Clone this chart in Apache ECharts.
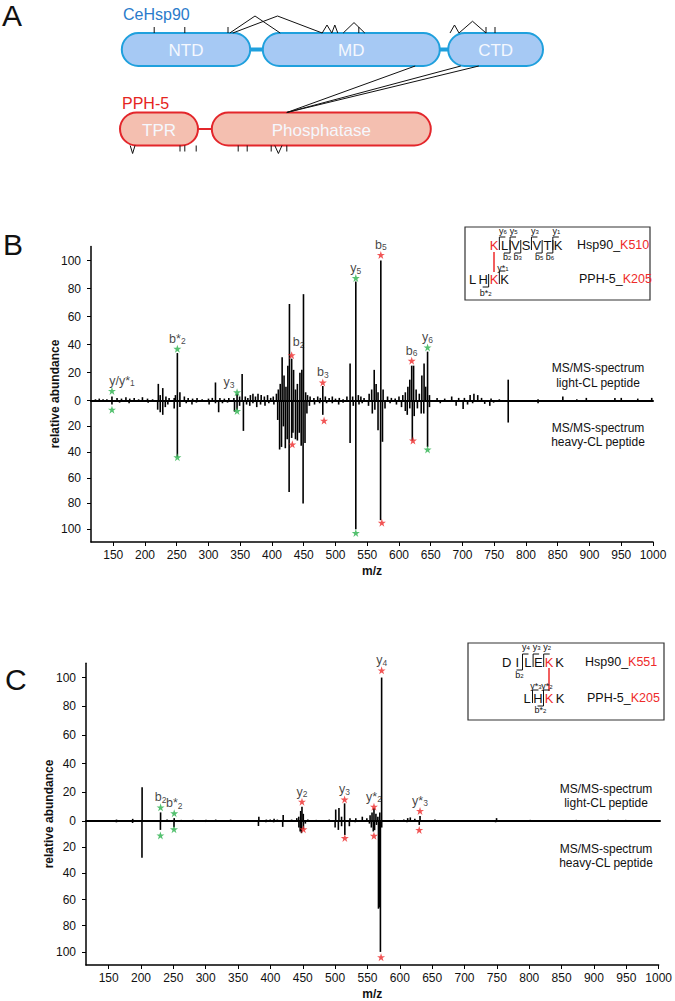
<!DOCTYPE html>
<html>
<head>
<meta charset="utf-8">
<title>CeHsp90 / PPH-5 cross-links</title>
<script src="https://cdn.jsdelivr.net/npm/echarts@6/dist/echarts.min.js"></script>
<style>
html,body{margin:0;padding:0;background:#fff;}
#main{width:675px;height:1001px;}
</style>
</head>
<body>
<div id="main"></div>
<script>
// ---------- panel A : domain diagram (diagram positions along the chain) ----------
var hspDomains = [['NTD', 3, 217], ['MD', 238, 533], ['CTD', 547, 705]];
var pphDomains = [['TPR', 0, 130], ['Phosphatase', 153, 518]];
var interLinks = [[492, 278], [568, 278], [598, 278]];           // [Hsp90 pos, PPH-5 pos]
var hspLoops = [[183, 267], [188, 337], [337, 353], [353, 363], [372, 408], [550, 565], [565, 610]];
var hspMono = [57, 108, 180, 398, 610, 625];
var pphLoops = [[17, 25], [258, 270]];
var pphMono = [100, 108, 127, 197, 212, 252, 278];

// ---------- panel B : K510 x K205 ----------
var bLight = [[122,1],[128,1.5],[134,1],[140,1],[148,3],[156,2],[163,1.5],[170,2.5],[176,1.5],[183,2],[190,1],[196,2.5],[204,1.5],[212,1],
  [221,12],[224,4],[228,9],[233,3],[238,2],[246,2],[248,4],[251,34],[255,6],[262,3],[268,2],[275,1.5],[282,2],[290,1],
  [300,1.5],[306,2],[311,13],[318,2],[325,1.5],[332,2],[340,2],[345,5],[349,3],[353,19],
  [358,3],[362,2],[366,4],[370,5],[374,3],[378,5],[383,4],[388,3],[393,4],[398,2],[402,3],[407,5],
  [410,8],[413,12],[416,31],[419,18],[422,10],[425,25],[427.5,69],[431,30],[434,22],[437,8],[440,12],[444,20],[447,22],[449.6,76],[453,6],[456,4],[460,3],
  [466,2],[472,3],[476,2],[480,10.5],[484,3],[490,2],[495,3],[500,1.5],[506,2],[512,1],[518,3],
  [523,26.6],[527,3],[532,85],[536,4],[540,3],[545,2],[553,5],[557,8],[561,22],[564,12],[567,6],[571.4,100],[575,8],
  [582,3],[588,2],[594,1.5],[600,3],[606,4],[610,6],[614,10],[617,15],[620,25],[623,25],[627,8],[632,5],[636,18],[639.5,26.6],[642,10],[645,35],[648,4],
  [660,2],[672,1.5],[683,3],[694,2],[703,2],[712,4],[718,5],[724,4],[730,2],[745,1.5],[758,1],[772,15],
  [819,1],[858,3],[880,1],[895,2],[940,2],[950,2],[976,1.5],[998,2]];
var bHeavy = [[130,1],[148,3],[160,1.5],[175,2],[190,1],[205,1.5],
  [220,7],[224,9],[228,11],[232,5],[236,3],[246,6],[251,43.5],[255,5],[265,2],[274,3],[281,1.5],
  [301,3],[311,2],[316,9],[322,2],[330,1.5],[341,8.5],[345,7],[349,4],[355,23.5],
  [360,3],[365,4],[370,2],[376,5],[382,3],[389,4],[395,2],[403,3],
  [409,15],[412,38],[415,36],[418,20],[421,37],[424,30],[427,71],[431,29],[433,25],[437,30],[440,31],[443,25],[446,35],[449,80],[452,33],[455,10],[459,4],
  [467,3],[475,2],[480,11],[486,2],[495,2],[505,3],[512,1.5],
  [523,33],[528,4],[532,100],[537,3],[542,2],[552,4],[558,10],[562,7],[567,23],[571,93],[574,32],[578,6],
  [586,2],[596,3],[604,5],[610,8],[613,11],[617,6],[621,31],[624,12],[629,6],[635,10],[639,10],[645,36],[648,5],
  [665,2],[690,4],[701,6.5],[708,3],[716,2],[735,2.5],[743,4],[749,1.5],[772,17],[819,2],[870,1]];
var bGreenUp = [[148,7],[251,37],[345,6],[532,87.5],[645,38]];
var bGreenDown = [[148,7],[251,44],[345,8],[532,103],[645,38]];
var bGreenIons = [['y/y*','1'],['b*','2'],['y','3'],['y','5'],['y','6']];
var bRedUp = [[431,32.5],[480,13],[571.4,104],[620,28.5]];
var bRedDown = [[432,34],[482,15.5],[573,95],[622,31]];
var bRedIons = [['b','2'],['b','3'],['b','5'],['b','6']];

// ---------- panel C : K551 x K205 ----------
var cLight = [[162,1],[187,1.5],[201.5,23.5],[230,6],[240,1],[251,2],[262,0.8],[280,0.8],[300,0.8],[315,1],[338,1],
  [381.5,3],[393,1],[399,1],[405,1.5],[410,1],[419,4.2],[432,1],[440,2],[443,3],[446,7],[448,10],[450,5],[457,1],[470,0.8],[490,1],
  [500,8],[505,9],[509,3],[513.7,12.3],[522,2],[531,2],[541,3],[548,2],[553,4],[556,6],[559,9],[562,5],[565,3],[568,6],[570.8,100],
  [590,0.8],[605,1],[611,2],[615,2.5],[622,1.5],[630,3.5],[653,1],[748,2],[800,0.8],[871,0.8],[920,0.8],[947,0.8]];
var cHeavy = [[162,1],[187,1.5],[201.5,28],[230,6.8],[251,4.8],[300,0.8],[381.5,3.8],[393,1],[405,1],[419,4.5],
  [444,5],[446,8],[448,9.3],[451,6],[454,2],[500,5],[505,6.8],[510,4],[515,10.6],[522,4],[531,1],
  [553,2],[556,5],[559,8],[561,7],[564,3],[567,67],[568.5,66],[570,100],[572,5],[611,1],[630,3],[653,0.8],[748,1]];
var cGreenUp = [[230,9.5],[251,5.4]];
var cGreenDown = [[230,11],[251,6.3]];
var cGreenIons = [['b','2'],['b*','2']];
var cRedUp = [[448,13.5],[513.7,15],[559,10],[570.8,105],[630,7]];
var cRedDown = [[451,6.3],[515,13],[560,11.3],[571,104],[630,6.8]];
var cRedIons = [['y','2'],['y','3'],['y*','2'],['y','4'],['y*','3']];

var mzTicks = [150,200,250,300,350,400,450,500,550,600,650,700,750,800,850,900,950,1000];
var upTicks = [0,20,40,60,80,100];
var downTicks = [20,40,60,80,100];

var FONT = '"Liberation Sans", Arial, sans-serif';
var GREEN = '#2bb24c', RED = '#ee2a2a', INK = '#111';
var STAR = 'path://M12,0L14.9,8.6L24,8.6L16.6,14L19.4,22.8L12,17.4L4.6,22.8L7.4,14L0,8.6L9.1,8.6Z';
var HALF = 16.5;

var chart = echarts.init(document.getElementById('main'), null, {renderer: 'svg'});

function txt(x, y, s, extra) {
  return {type: 'text', x: x, y: y, silent: true, z: 10,
    style: Object.assign({text: s, fill: INK, font: '12px ' + FONT, textAlign: 'center', textVerticalAlign: 'middle'}, extra || {})};
}
function pline(points, color, w) {
  return {type: 'polyline', silent: true, z: 10, shape: {points: points}, style: {stroke: color || INK, lineWidth: w || 1, fill: null}};
}
function ionTxt(x, y, name, num) {
  return txt(x, y, '{m|' + name + '}{s|' + num + '}', {rich: {
    m: {fontSize: 9, fontFamily: FONT, fill: INK, lineHeight: 8},
    s: {fontSize: 6, fontFamily: FONT, fill: INK, lineHeight: 3, verticalAlign: 'bottom'}}});
}

// one peptide line of an inset, with its y / b fragment brackets
function peptideRow(seq, xl, xlX, y, step, yIons, bIons, star, yOff, bOff) {
  var els = [], n = seq.length, xs = [];
  for (var i = 0; i < n; i++) xs.push(xlX + (i - xl) * step);
  for (i = 0; i < n; i++) els.push(txt(xs[i], y, seq[i], {fill: i === xl ? RED : INK, font: '13px ' + FONT}));
  yIons.forEach(function (k) {
    var bx = (xs[n - k - 1] + xs[n - k]) / 2;
    els.push(pline([[bx, y + 5], [bx, y - 8], [bx + 6, y - 8]]));
    els.push(ionTxt(bx + 3.5, y - yOff, star ? 'y*' : 'y', k));
  });
  bIons.forEach(function (k) {
    var bx = (xs[k - 1] + xs[k]) / 2;
    els.push(pline([[bx, y - 5], [bx, y + 8], [bx - 6, y + 8]]));
    els.push(ionTxt(bx - 3, y + bOff, star ? 'b*' : 'b', k));
  });
  return els;
}
function siteLabel(x, y, prot, site) {
  return txt(x, y, '{k|' + prot + '}{r|' + site + '}', {textAlign: 'left', rich: {
    k: {fontSize: 12.5, fontFamily: FONT, fill: INK}, r: {fontSize: 12.5, fontFamily: FONT, fill: RED}}});
}

var graphics = [
  txt(2, 15, 'A', {font: '30px ' + FONT, textAlign: 'left'}),
  txt(3, 244, 'B', {font: '30px ' + FONT, textAlign: 'left'}),
  txt(5, 679, 'C', {font: '30px ' + FONT, textAlign: 'left'}),
  txt(123, 14, 'CeHsp90', {font: '16px ' + FONT, fill: '#2a7bcb', textAlign: 'left'}),
  txt(122, 103, 'PPH-5', {font: '16px ' + FONT, fill: '#e52421', textAlign: 'left'}),
  txt(55, 394, 'relative abundance', {font: 'bold 12px ' + FONT}),
  txt(49, 814, 'relative abundance', {font: 'bold 12px ' + FONT}),
  txt(598, 368, 'MS/MS-spectrum', {font: '12px ' + FONT}),
  txt(598, 383, 'light-CL peptide', {font: '12px ' + FONT}),
  txt(598, 428, 'MS/MS-spectrum', {font: '12px ' + FONT}),
  txt(598, 442, 'heavy-CL peptide', {font: '12px ' + FONT}),
  txt(606, 789, 'MS/MS-spectrum', {font: '12px ' + FONT}),
  txt(606, 803, 'light-CL peptide', {font: '12px ' + FONT}),
  txt(606, 849, 'MS/MS-spectrum', {font: '12px ' + FONT}),
  txt(606, 863, 'heavy-CL peptide', {font: '12px ' + FONT}),
  // inset B
  {type: 'rect', silent: true, z: 9, shape: {x: 465, y: 227, width: 185, height: 73}, style: {fill: '#fff', stroke: '#333', lineWidth: 1.2}},
  pline([[494, 252], [494, 272]], RED, 1.5),
  siteLabel(577, 245, 'Hsp90_', 'K510'),
  siteLabel(579, 279, 'PPH-5_', 'K205'),
  // inset C
  {type: 'rect', silent: true, z: 9, shape: {x: 468, y: 643, width: 196, height: 77}, style: {fill: '#fff', stroke: '#333', lineWidth: 1.2}},
  pline([[549, 668], [549, 691]], RED, 1.5),
  siteLabel(585, 662, 'Hsp90_', 'K551'),
  siteLabel(587, 698, 'PPH-5_', 'K205')
];
graphics[5].rotation = Math.PI / 2;
graphics[6].rotation = Math.PI / 2;
graphics = graphics
  .concat(peptideRow('KLVSVTK', 0, 494, 245, 10.7, [6, 5, 3, 1], [2, 3, 5, 6], false, 14, 12))
  .concat(peptideRow('LHKK', 2, 494, 279, 10.7, [1], [2], true, 11, 14))
  .concat(peptideRow('DILEKK', 4, 549, 662, 10.6, [4, 3, 2], [2], false, 15, 13))
  .concat(peptideRow('LHKK', 2, 549, 698, 11, [3, 2], [2], true, 12, 12));

// ---------- panel A series ----------
function domainSeries(domains, row, fill, stroke) {
  return {type: 'custom', xAxisIndex: 0, yAxisIndex: 0, silent: true, z: 3,
    data: domains.map(function (d) { return [d[1], d[2], row]; }),
    renderItem: function (params, api) {
      var a = api.coord([api.value(0), api.value(2)]);
      var b = api.coord([api.value(1), api.value(2)]);
      return {type: 'group', children: [
        {type: 'rect', shape: {x: a[0], y: a[1] - HALF, width: b[0] - a[0], height: 2 * HALF, r: HALF},
          style: {fill: fill, stroke: stroke, lineWidth: 2}},
        {type: 'text', x: (a[0] + b[0]) / 2, y: a[1] + 1,
          style: {text: domains[params.dataIndex][0], fill: '#f5f8fe', font: '17px ' + FONT, textAlign: 'center', textVerticalAlign: 'middle'}}
      ]};
    }};
}
function backboneSeries(domains, row, color, width) {
  return {type: 'custom', xAxisIndex: 0, yAxisIndex: 0, silent: true, z: 2,
    data: [[domains[0][2], domains[domains.length - 1][1], row]],
    renderItem: function (params, api) {
      var a = api.coord([api.value(0), api.value(2)]);
      var b = api.coord([api.value(1), api.value(2)]);
      return {type: 'line', shape: {x1: a[0], y1: a[1], x2: b[0], y2: b[1]}, style: {stroke: color, lineWidth: width}};
    }};
}
function loopSeries(loops, row, dir) {
  return {type: 'custom', xAxisIndex: 0, yAxisIndex: 0, silent: true, z: 4,
    data: loops.map(function (d) { return [d[0], d[1], row]; }),
    renderItem: function (params, api) {
      var a = api.coord([api.value(0), api.value(2)]);
      var b = api.coord([api.value(1), api.value(2)]);
      var edge = a[1] + dir * HALF;
      var h = Math.max(8, Math.min(17, 5 + (b[0] - a[0]) * 0.25));
      return {type: 'polyline', shape: {points: [[a[0], edge], [(a[0] + b[0]) / 2, edge + dir * h], [b[0], edge]]},
        style: {stroke: INK, lineWidth: 1, fill: null}};
    }};
}
function monoSeries(pos, row, dir) {
  return {type: 'custom', xAxisIndex: 0, yAxisIndex: 0, silent: true, z: 4,
    data: pos.map(function (p) { return [p, row]; }),
    renderItem: function (params, api) {
      var a = api.coord([api.value(0), api.value(1)]);
      var edge = a[1] + dir * HALF;
      return {type: 'line', shape: {x1: a[0], y1: edge, x2: a[0], y2: edge + dir * 6}, style: {stroke: INK, lineWidth: 1}};
    }};
}
var interSeries = {type: 'custom', xAxisIndex: 0, yAxisIndex: 0, silent: true, z: 4,
  data: interLinks,
  renderItem: function (params, api) {
    var a = api.coord([api.value(0), 1]);
    var b = api.coord([api.value(1), 0]);
    return {type: 'line', shape: {x1: a[0], y1: a[1] + HALF, x2: b[0], y2: b[1] - HALF}, style: {stroke: INK, lineWidth: 1}};
  }};

// ---------- spectrum helpers ----------
function sticks(data, idx) {
  return {type: 'custom', xAxisIndex: idx, yAxisIndex: idx, silent: true, z: 3, data: data,
    renderItem: function (params, api) {
      var a = api.coord([api.value(0), 0]);
      var b = api.coord([api.value(0), api.value(1)]);
      return {type: 'line', shape: {x1: a[0], y1: a[1], x2: b[0], y2: b[1]}, style: {stroke: '#000', lineWidth: 1.6}};
    }};
}
function stars(data, idx, color, ions, nudge) {
  var items = data.map(function (d, i) {
    var item = {value: d};
    if (ions) {
      var key = ions[i][0] + ions[i][1];
      var off = (nudge && nudge[key]) || [0, 0];
      item.label = {show: true, position: 'inside', offset: [off[0], -10 + off[1]],
        formatter: '{m|' + ions[i][0] + '}{s|' + ions[i][1] + '}'};
    }
    return item;
  });
  return {type: 'scatter', xAxisIndex: idx, yAxisIndex: idx, silent: true, z: 5,
    symbol: STAR, symbolSize: 8, itemStyle: {color: color}, data: items,
    label: {show: false, rich: {
      m: {fontSize: 12.5, fontFamily: FONT, color: INK, lineHeight: 14},
      s: {fontSize: 8.5, fontFamily: FONT, color: INK, lineHeight: 5, verticalAlign: 'bottom'}}}};
}
function xTop(idx) {
  return {gridIndex: idx, type: 'value', min: 115, max: 1000, position: 'bottom',
    axisLine: {onZero: false, lineStyle: {color: '#000', width: 2}}, axisTick: {show: false}, axisLabel: {show: false}, splitLine: {show: false}};
}
function xBottom(idx) {
  return {gridIndex: idx, type: 'value', min: 115, max: 1000, position: 'bottom',
    name: 'm/z', nameLocation: 'middle', nameGap: 23,
    nameTextStyle: {fontWeight: 'bold', fontSize: 12, color: INK, fontFamily: FONT},
    axisLine: {onZero: false, lineStyle: {color: '#000', width: 1.5}},
    axisTick: {show: true, length: 4, customValues: mzTicks, lineStyle: {color: '#000'}},
    axisLabel: {customValues: mzTicks, fontSize: 12, color: INK, fontFamily: FONT, margin: 7,
      formatter: function (v) { return String(v); }},
    splitLine: {show: false}};
}
function yAxisFor(idx, inverse) {
  var t = inverse ? downTicks : upTicks;
  return {gridIndex: idx, type: 'value', min: 0, max: 110, inverse: inverse,
    axisLine: {show: true, onZero: false, lineStyle: {color: '#000', width: 1.5}},
    axisTick: {show: true, length: 4, customValues: t, lineStyle: {color: '#000'}},
    axisLabel: {customValues: t, fontSize: 12, color: INK, fontFamily: FONT, margin: 10},
    splitLine: {show: false}};
}

var nudgeB = {'y/y*1': [10, 0], 'y3': [-8, 0], 'b2': [7, -3]};

var option = {
  animation: false,
  backgroundColor: '#fff',
  textStyle: {fontFamily: FONT},
  grid: [
    {left: 120, width: 432, top: 49.5, height: 79.5},
    {left: 91, width: 562, top: 246.5, height: 154.2},
    {left: 91, width: 562, top: 400.7, height: 141.3},
    {left: 86, width: 574, top: 663.2, height: 157.8},
    {left: 86, width: 574, top: 821, height: 145.5}
  ],
  xAxis: [
    {gridIndex: 0, type: 'value', min: 0, max: 720, show: false},
    xTop(1), xBottom(2), xTop(3), xBottom(4)
  ],
  yAxis: [
    {gridIndex: 0, type: 'value', min: 0, max: 1, show: false},
    yAxisFor(1, false), yAxisFor(2, true), yAxisFor(3, false), yAxisFor(4, true)
  ],
  graphic: graphics,
  series: [
    backboneSeries(hspDomains, 1, '#1fa0dd', 4),
    backboneSeries(pphDomains, 0, '#e3262b', 2),
    interSeries,
    domainSeries(hspDomains, 1, '#a6c9f4', '#1fa0dd'),
    domainSeries(pphDomains, 0, '#f4bfb0', '#e3262b'),
    loopSeries(hspLoops, 1, -1),
    monoSeries(hspMono, 1, -1),
    loopSeries(pphLoops, 0, 1),
    monoSeries(pphMono, 0, 1),

    sticks(bLight, 1), sticks(bHeavy, 2),
    stars(bGreenUp, 1, GREEN, bGreenIons, nudgeB), stars(bRedUp, 1, RED, bRedIons, nudgeB),
    stars(bGreenDown, 2, GREEN), stars(bRedDown, 2, RED),

    sticks(cLight, 3), sticks(cHeavy, 4),
    stars(cGreenUp, 3, GREEN, cGreenIons), stars(cRedUp, 3, RED, cRedIons),
    stars(cGreenDown, 4, GREEN), stars(cRedDown, 4, RED)
  ]
};
chart.setOption(option);
</script>
</body>
</html>
